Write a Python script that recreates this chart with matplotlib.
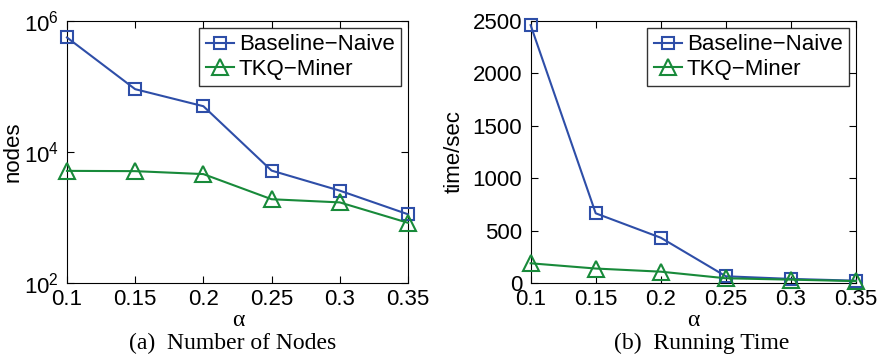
import matplotlib
matplotlib.use("Agg")
import matplotlib.pyplot as plt
from matplotlib.ticker import NullLocator

# data
alpha = [0.1, 0.15, 0.2, 0.25, 0.3, 0.35]
alpha_labels = ["0.1", "0.15", "0.2", "0.25", "0.3", "0.35"]
nodes_naive = [5.6e5, 9.1e4, 5.0e4, 5200, 2570, 1120]
nodes_tkq = [5150, 5100, 4600, 1900, 1700, 830]
time_naive = [2460, 665, 432, 64, 39, 22]
time_tkq = [188, 138, 108, 45, 32, 18]

blue = "#2e4ea8"
green = "#188a3a"
sans = ["Liberation Sans", "DejaVu Sans"]
serif = ["Liberation Serif", "DejaVu Serif"]

plt.rcParams["font.family"] = sans
plt.rcParams["font.size"] = 16

fig = plt.figure(figsize=(8.8, 3.6), dpi=100)
ax1 = fig.add_axes([0.0761, 0.2139, 0.3875, 0.7278])
ax2 = fig.add_axes([0.603, 0.2139, 0.3697, 0.7278])


def draw(ax, y1, y2):
    ax.plot(alpha, y1, color=blue, lw=1.5, marker="s", ms=9, mfc="none",
            mew=1.5, label="Baseline\u2212Naive", clip_on=False, zorder=3)
    ax.plot(alpha, y2, color=green, lw=1.5, marker="^", ms=11, mfc="none",
            mew=1.5, label="TKQ\u2212Miner", clip_on=False, zorder=3)
    ax.set_xlim(0.1, 0.35)
    ax.set_xticks(alpha)
    ax.set_xticklabels(alpha_labels)
    ax.tick_params(direction="in", top=True, right=True, labelsize=16,
                   length=5)
    ax.tick_params(axis="x", pad=4)
    ax.tick_params(axis="y", pad=6)
    leg = ax.legend(loc="upper right", fontsize=16, frameon=True, fancybox=False,
                    borderpad=0.3, handlelength=1.3, handletextpad=0.2,
                    labelspacing=0.15, borderaxespad=0.3)
    leg.get_frame().set_edgecolor("black")
    leg.get_frame().set_linewidth(1.0)


draw(ax1, nodes_naive, nodes_tkq)
ax1.set_yscale("log")
ax1.set_ylim(1e2, 1e6)
ax1.set_yticks([1e2, 1e4, 1e6])
ax1.yaxis.set_minor_locator(NullLocator())
ax1.set_ylabel("nodes", fontsize=16)
ax1.yaxis.set_label_coords(-0.126, 0.5)

draw(ax2, time_naive, time_tkq)
ax2.set_ylim(0, 2500)
ax2.set_yticks([0, 500, 1000, 1500, 2000, 2500])
ax2.set_ylabel("time/sec", fontsize=16)
ax2.yaxis.set_label_coords(-0.202, 0.5)

fig.text(238 / 880, 1 - 320 / 360, "\u03b1", ha="center", va="center",
         fontsize=17, family=serif)
fig.text(693 / 880, 1 - 320 / 360, "\u03b1", ha="center", va="center",
         fontsize=17, family=serif)
fig.text(233 / 880, 1 - 343 / 360, "(a)  Number of Nodes", ha="center",
         va="center", fontsize=17, family=serif)
fig.text(702 / 880, 1 - 343 / 360, "(b)  Running Time", ha="center",
         va="center", fontsize=17, family=serif)

fig.savefig("out.png", dpi=100)
